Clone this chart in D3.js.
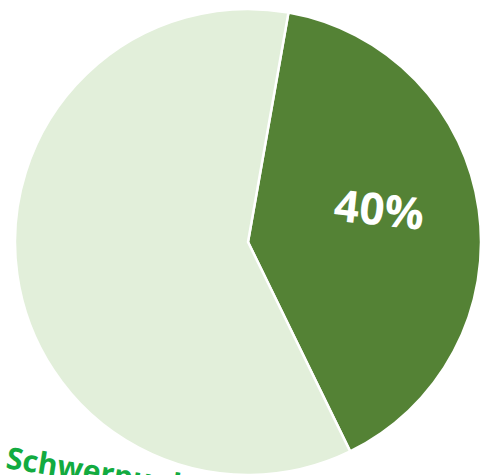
<!DOCTYPE html>
<html>
<head>
<meta charset="utf-8">
<script src="https://cdn.jsdelivr.net/npm/d3@7"></script>
<style>
  body { margin: 0; background: #fff; }
  svg { display: block; }
</style>
</head>
<body>
<div id="chart"></div>
<script>
var width = 481,
    height = 475;

var categories = ["Schwerpunkt", "Andere"];
var values = [40, 60];
var colors = ["#548235", "#E2EFDA"];
var labels = ["40%", ""];

var svg = d3.select("#chart")
    .append("svg")
        .attr("width", width)
        .attr("height", height);

var cx = 248, cy = 242, radius = 233;

var pie = d3.pie()
    .sort(null)
    .startAngle(10 * Math.PI / 180)
    .endAngle(370 * Math.PI / 180);

var arc = d3.arc()
    .innerRadius(0)
    .outerRadius(radius);

var g = svg.append("g")
    .attr("transform", "translate(" + cx + "," + cy + ")");

g.selectAll("path")
    .data(pie(values))
  .enter().append("path")
    .attr("d", arc)
    .attr("fill", function(d, i) { return colors[i]; })
    .attr("stroke", "#fff")
    .attr("stroke-width", 2.5)
    .attr("stroke-linejoin", "round");

// percent label inside the dark slice
var labelArc = d3.arc().innerRadius(radius * 0.56).outerRadius(radius * 0.56);
g.selectAll(".pct")
    .data(pie(values).filter(function(d, i) { return labels[i]; }))
  .enter().append("text")
    .attr("class", "pct")
    .attr("transform", function(d) {
        var c = labelArc.centroid(d);
        return "translate(" + (c[0] + 2) + "," + (c[1] - 14) + ") rotate(6)";
    })
    .attr("text-anchor", "middle")
    .attr("dy", "0.35em")
    .attr("fill", "#fff")
    .style("font-family", "'Open Sans', sans-serif")
    .style("font-weight", "bold")
    .style("font-size", "44px")
    .text(function(d) { return labels[d.index]; });

// title text, cut off at the bottom like the original
svg.append("text")
    .attr("transform", "translate(5,468) rotate(9)")
    .attr("fill", "#12AB40")
    .style("font-family", "'Open Sans', sans-serif")
    .style("font-weight", "bold")
    .style("font-size", "30px")
    .text(categories[0]);
</script>
</body>
</html>
